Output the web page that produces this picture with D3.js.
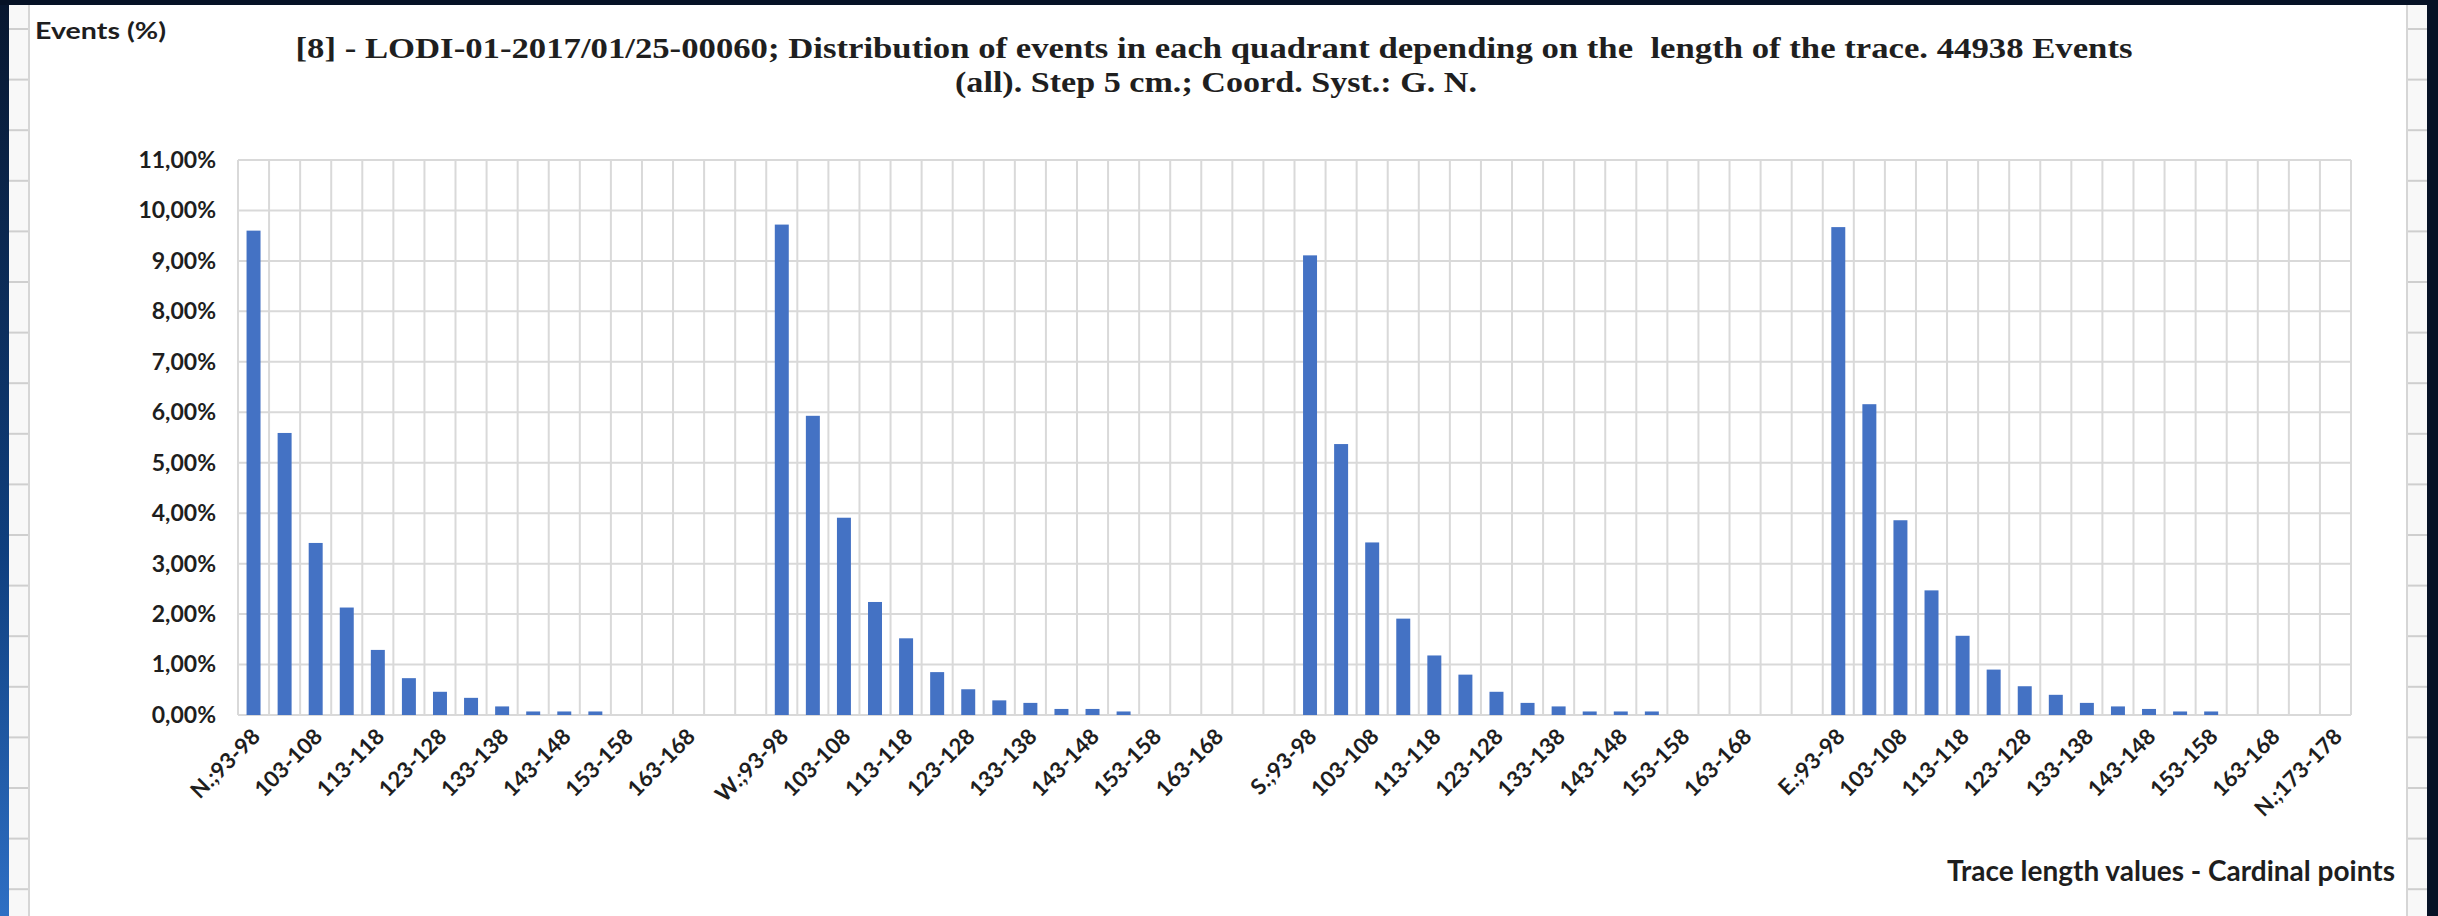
<!DOCTYPE html>
<html>
<head>
<meta charset="utf-8">
<title>Trace length distribution</title>
<script src="https://cdn.jsdelivr.net/npm/d3@7/dist/d3.min.js"></script>
<style>
body { margin: 0; background: #061226; }
svg { display: block; }
.tick text { font-family: Lato, "Open Sans", sans-serif; font-weight: bold; fill: #1e1e1e; }
.title { font-family: "Liberation Serif", serif; font-weight: bold; fill: #1f1f1f; white-space: pre; }
.lab { font-family: Lato, "Open Sans", sans-serif; font-weight: bold; fill: #1e1e1e; }
</style>
</head>
<body>
<script>

// ---- data (values in %) ----
var quadrants = ["N", "W", "S", "E"];
var bins = ["93-98", "98-103", "103-108", "108-113", "113-118", "118-123", "123-128",
            "128-133", "133-138", "138-143", "143-148", "148-153", "153-158",
            "158-163", "163-168", "168-173", "173-178"];
var valuesN = [9.60, 5.59, 3.41, 2.13, 1.29, 0.73, 0.46, 0.34, 0.17, 0.07, 0.07, 0.07, 0, 0, 0, 0, 0];
var valuesW = [9.72, 5.93, 3.91, 2.24, 1.52, 0.85, 0.51, 0.29, 0.24, 0.12, 0.12, 0.07, 0, 0, 0, 0, 0];
var valuesS = [9.11, 5.37, 3.42, 1.91, 1.18, 0.80, 0.46, 0.24, 0.17, 0.07, 0.07, 0.07, 0, 0, 0, 0, 0];
var valuesE = [9.67, 6.16, 3.86, 2.47, 1.57, 0.90, 0.57, 0.40, 0.24, 0.17, 0.12, 0.07, 0.07, 0, 0, 0, 0];
var yTicks = [0, 1, 2, 3, 4, 5, 6, 7, 8, 9, 10, 11];
var lastLabel = "N.;173-178";

var titleLine1 = "[8] - LODI-01-2017/01/25-00060; Distribution of events in each quadrant depending on the  length of the trace. 44938 Events";
var titleLine2 = "(all). Step 5 cm.; Coord. Syst.: G. N.";
var yTitle = "Events (%)";
var xTitle = "Trace length values - Cardinal points";

var series = {N: valuesN, W: valuesW, S: valuesS, E: valuesE};

var data = [];
quadrants.forEach(function(q) {
  bins.forEach(function(b, i) {
    data.push({id: q + ";" + b, q: q, bin: b, bi: i, value: series[q][i]});
  });
});

var width = 2438, height = 916;
var plotL = 238, plotR = 2351, plotT = 160, plotB = 715;

var svg = d3.select("body").append("svg")
    .attr("width", width)
    .attr("height", height);

// ---- slide background around the chart ----
var defs = svg.append("defs");
var grad = defs.append("linearGradient").attr("id", "sidebg")
    .attr("x1", 0).attr("y1", 0).attr("x2", 0).attr("y2", 1);
grad.append("stop").attr("offset", "0%").attr("stop-color", "#08172f");
grad.append("stop").attr("offset", "60%").attr("stop-color", "#0f3f7e");
grad.append("stop").attr("offset", "100%").attr("stop-color", "#2e6fc4");

svg.append("rect").attr("width", width).attr("height", height).attr("fill", "#061226");
svg.append("rect").attr("x", 0).attr("y", 5).attr("width", 9).attr("height", height - 5).attr("fill", "url(#sidebg)");

// sheet strips on both sides
[[9, 21], [2407, 20]].forEach(function(s) {
  svg.append("rect").attr("x", s[0]).attr("y", 5).attr("width", s[1]).attr("height", height - 5).attr("fill", "#f8f8f8");
  d3.range(29, height, 50.6).forEach(function(yy) {
    svg.append("line").attr("x1", s[0]).attr("x2", s[0] + s[1])
      .attr("y1", yy).attr("y2", yy).attr("stroke", "#cfcfcf").attr("stroke-width", 2);
  });
});

// chart panel
svg.append("rect").attr("x", 30).attr("y", 5).attr("width", 2377).attr("height", height - 5).attr("fill", "#ffffff");
svg.append("line").attr("x1", 29).attr("x2", 29).attr("y1", 5).attr("y2", height).attr("stroke", "#d6d6d6").attr("stroke-width", 2);
svg.append("line").attr("x1", 2407).attr("x2", 2407).attr("y1", 5).attr("y2", height).attr("stroke", "#d6d6d6").attr("stroke-width", 2);

// ---- scales ----
var x = d3.scaleBand()
    .domain(data.map(function(d) { return d.id; }))
    .range([plotL, plotR])
    .paddingInner(0.55)
    .paddingOuter(0.275);

var y = d3.scaleLinear().domain([0, 11]).range([plotB, plotT]);

var step = x.step();
var edge = function(d) { return x(d.id) - step * 0.275; };

// ---- gridlines ----
var grid = svg.append("g");
grid.selectAll("line.h")
  .data(yTicks)
  .enter().append("line")
    .attr("class", "h")
    .attr("x1", plotL).attr("x2", plotR)
    .attr("y1", function(d) { return y(d); })
    .attr("y2", function(d) { return y(d); })
    .attr("stroke", "#d9d9d9").attr("stroke-width", 2);

grid.selectAll("line.v")
  .data(data.map(edge).concat([plotR]))
  .enter().append("line")
    .attr("class", "v")
    .attr("x1", function(d) { return d; }).attr("x2", function(d) { return d; })
    .attr("y1", plotT).attr("y2", plotB)
    .attr("stroke", "#d9d9d9").attr("stroke-width", 2);

// ---- bars ----
svg.append("g").selectAll("rect")
  .data(data.filter(function(d) { return d.value > 0; }))
  .enter().append("rect")
    .attr("x", function(d) { return x(d.id); })
    .attr("y", function(d) { return y(d.value); })
    .attr("width", x.bandwidth())
    .attr("height", function(d) { return y(0) - y(d.value); })
    .attr("fill", "#4472c4");

// ---- y axis ----
var yAxis = d3.axisLeft(y)
    .tickValues(yTicks)
    .tickSize(0)
    .tickPadding(22)
    .tickFormat(function(d) { return d.toFixed(2).replace(".", ",") + "%"; });

svg.append("g")
    .attr("transform", "translate(" + plotL + ",0)")
    .call(yAxis)
    .call(function(g) { g.select(".domain").remove(); })
    .selectAll("text")
    .style("font-size", "23px");

// ---- x axis labels ----
function tickText(d, i) {
  if (i === data.length - 1) return lastLabel;
  if (d.bi === 0) return d.q + ".;" + d.bin;
  if (d.bi % 2 === 0 && d.bi < 16) return d.bin;
  return "";
}

svg.append("g").selectAll("text")
  .data(data)
  .enter().append("text")
    .attr("class", "lab")
    .attr("text-anchor", "end")
    .style("font-size", "22px")
    .attr("transform", function(d) {
      return "translate(" + (x(d.id) + x.bandwidth() / 2 + 8) + "," + (plotB + 23) + ") rotate(-45)";
    })
    .text(tickText);

// ---- titles ----
svg.append("text").attr("class", "title")
    .attr("x", 1214).attr("y", 58)
    .attr("text-anchor", "middle")
    .style("font-size", "29px")
    .attr("textLength", 1837).attr("lengthAdjust", "spacingAndGlyphs")
    .text(titleLine1);

svg.append("text").attr("class", "title")
    .attr("x", 1216).attr("y", 92)
    .attr("text-anchor", "middle")
    .style("font-size", "29px")
    .attr("textLength", 522).attr("lengthAdjust", "spacingAndGlyphs")
    .text(titleLine2);

svg.append("text").attr("class", "lab")
    .attr("x", 35).attr("y", 39)
    .style("font-size", "22px")
    .attr("textLength", 131).attr("lengthAdjust", "spacingAndGlyphs")
    .text(yTitle);

svg.append("text").attr("class", "lab")
    .attr("x", 2395).attr("y", 881)
    .attr("text-anchor", "end")
    .style("font-size", "28px")
    .text(xTitle);

</script>
</body>
</html>
